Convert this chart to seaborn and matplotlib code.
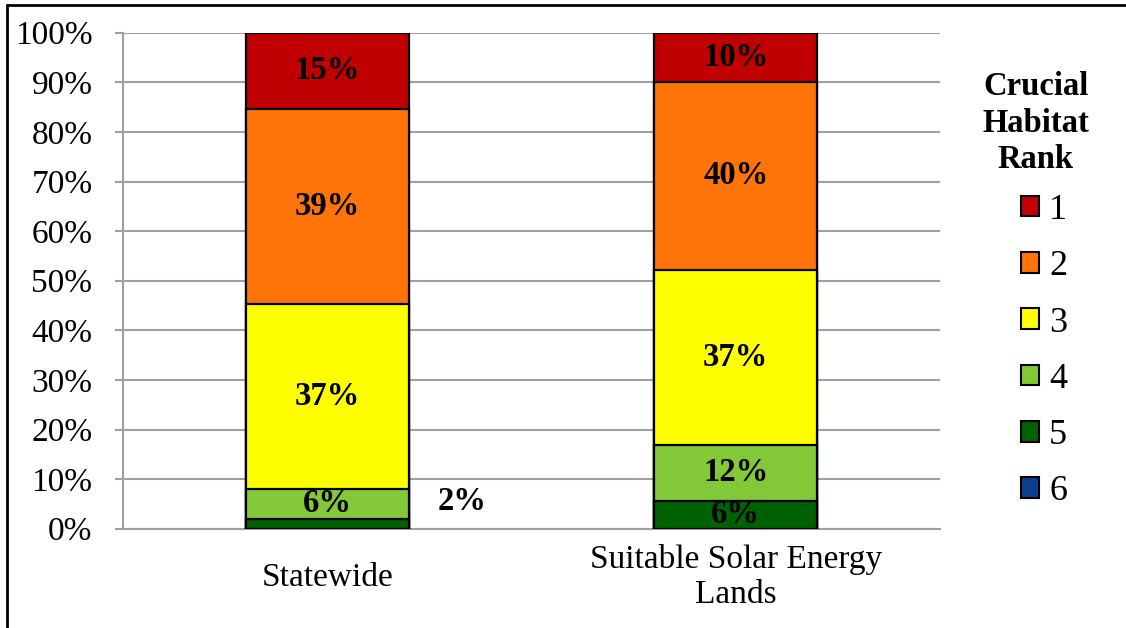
import matplotlib
matplotlib.use("Agg")
import matplotlib.pyplot as plt
from matplotlib.patches import Patch
from matplotlib.lines import Line2D
import numpy as np
import seaborn as sns

CATEGORIES = ["Statewide", "Suitable Solar Energy\nLands"]
RANKS = ["1", "2", "3", "4", "5", "6"]
# share of area per rank (%)
RANK_1 = [15.3, 9.9]
RANK_2 = [39.3, 37.9]
RANK_3 = [37.3, 35.3]
RANK_4 = [6.1, 11.3]
RANK_5 = [2.0, 5.6]
RANK_6 = [0.0, 0.0]
# labels as printed on the chart
LABELS_1 = ["15%", "10%"]
LABELS_2 = ["39%", "40%"]
LABELS_3 = ["37%", "37%"]
LABELS_4 = ["6%", "12%"]
LABELS_5 = ["2%", "6%"]
YTICKS = [0, 10, 20, 30, 40, 50, 60, 70, 80, 90, 100]

COLORS = ["#C00000", "#FF7409", "#FFFF00", "#82C837", "#006100", "#0B3F8C"]

sns.set_style("white")
plt.rcParams["font.family"] = ["Liberation Serif", "DejaVu Serif"]
plt.rcParams["text.color"] = "black"
plt.rcParams["xtick.color"] = "black"
plt.rcParams["ytick.color"] = "black"

W, H = 1126, 628
fig = plt.figure(figsize=(W / 100, H / 100), dpi=100)
ax = fig.add_axes([123 / W, 1 - 528.7 / H, (940 - 123) / W, (528.7 - 32.7) / H])

series = [RANK_1, RANK_2, RANK_3, RANK_4, RANK_5, RANK_6]
labels = [LABELS_1, LABELS_2, LABELS_3, LABELS_4, LABELS_5, None]
# stack from the bottom: rank 6, 5, 4 ... 1 on top
tops = np.cumsum(np.array(series[::-1]), axis=0)[::-1]
bottoms = tops - np.array(series)

for i, rank in enumerate(RANKS):
    if np.all(np.array(series[i]) == 0):
        continue
    sns.barplot(x=CATEGORIES, y=tops[i], color=COLORS[i], width=0.4,
                edgecolor="black", linewidth=1.6, saturation=1, ax=ax, zorder=3)

# segment labels
for i in range(5):
    for j, cat in enumerate(CATEGORIES):
        if i == 4 and j == 0:
            continue
        mid = (tops[i][j] + bottoms[i][j]) / 2
        ax.text(j, mid, labels[i][j], ha="center", va="center", fontsize=23.5,
                fontweight="bold", color="black", zorder=5)
# the small statewide rank-5 label sits beside the bar
ax.text(0.33, 5.5, LABELS_5[0], ha="center", va="center", fontsize=23.5,
        fontweight="bold", color="black", zorder=5)

ax.set_xlim(-0.5, 1.5)
ax.set_ylim(0, 100)
ax.set_yticks(YTICKS)
ax.set_yticklabels([f"{v}%" for v in YTICKS], fontsize=24)
ax.set_xticks(range(len(CATEGORIES)))
ax.set_xticklabels(CATEGORIES, fontsize=24, va="center", linespacing=1.2)
ax.tick_params(axis="x", length=0, pad=35)
ax.tick_params(axis="y", direction="out", length=6, width=1.5, color="#A0A0A0",
               labelcolor="black", left=True, pad=16)
ax.yaxis.grid(True, color="#A0A0A0", linewidth=1.5, zorder=0)
ax.set_axisbelow(True)
for side in ["top", "right"]:
    ax.spines[side].set_visible(False)
for side in ["left", "bottom"]:
    ax.spines[side].set_color("#A0A0A0")
    ax.spines[side].set_linewidth(1.5)
ax.set_xlabel("")
ax.set_ylabel("")

# legend title and entries
fig.text(1036 / W, 1 - 123 / H, "Crucial\nHabitat\nRank", ha="center", va="center",
         fontsize=23.5, fontweight="bold", linespacing=1.22)
handles = [Patch(facecolor=c, edgecolor="black", linewidth=1.5) for c in COLORS]
fig.legend(handles, RANKS, loc="upper left", bbox_to_anchor=(1021 / W, 1 - 194 / H),
           frameon=False, fontsize=26, borderpad=0, borderaxespad=0,
           handlelength=0.5, handleheight=0.5, handletextpad=0.28,
           labelspacing=0.645)

# outer frame (left and top edges visible)
fig.add_artist(Line2D([7 / W, 7 / W], [0, 1 - 5 / H], transform=fig.transFigure,
                      color="black", linewidth=2))
fig.add_artist(Line2D([7 / W, 1], [1 - 5 / H, 1 - 5 / H], transform=fig.transFigure,
                      color="black", linewidth=2))

fig.savefig("out.png", dpi=100)
